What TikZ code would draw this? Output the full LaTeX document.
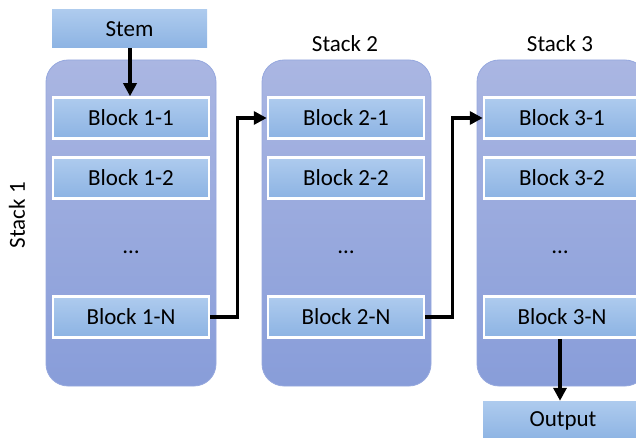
\documentclass[tikz,border=0pt]{standalone}
\usepackage{fontspec}
\setmainfont{Carlito}
\usetikzlibrary{arrows.meta}
\definecolor{blktop}{RGB}{174,203,238}
\definecolor{blkbot}{RGB}{140,179,227}
\definecolor{stktop}{RGB}{170,182,226}
\definecolor{stkbot}{RGB}{136,157,217}
\definecolor{stkline}{RGB}{150,168,222}
\tikzset{
  stackbox/.style={draw=stkline, line width=0.8pt, rounded corners=22pt, top color=stktop, bottom color=stkbot},
  blockbox/.style={draw=white, line width=2.5pt, top color=blktop, bottom color=blkbot,
    minimum width=156pt, minimum height=41pt, inner sep=0pt, font=\fontsize{23}{27}\selectfont},
  plainbox/.style={top color=blktop, bottom color=blkbot, inner sep=0pt, font=\fontsize{23}{27}\selectfont},
  lbl/.style={font=\fontsize{23}{27}\selectfont, inner sep=0pt},
  conn/.style={line width=3.5pt, -{Triangle[length=13pt,width=13pt]}},
}
\begin{document}
\begin{tikzpicture}[x=1pt,y=-1pt]
\useasboundingbox (0,0) rectangle (636,438);
\clip (0,0) rectangle (636,438);
% stacks
\path[stackbox] (46,60) rectangle (216,386);
\path[stackbox] (262,60) rectangle (431,386);
\path[stackbox] (477,60) rectangle (647,386);
% stem and output
\node[plainbox, minimum width=155pt, minimum height=38pt] (stem) at (129.5,29) {Stem};
\node[plainbox, minimum width=160pt, minimum height=40pt] (out) at (563,421) {Output};
% blocks
\node[blockbox] (b11) at (131,118) {Block 1-1};
\node[blockbox] (b12) at (131,178) {Block 1-2};
\node[lbl] (d1) at (131,252) {…};
\node[blockbox] (b1n) at (131,317) {Block 1-N};
\node[blockbox] (b21) at (346,118) {Block 2-1};
\node[blockbox] (b22) at (346,178) {Block 2-2};
\node[lbl] (d2) at (346,252) {…};
\node[blockbox] (b2n) at (346,317) {Block 2-N};
\node[blockbox] (b31) at (562,118) {Block 3-1};
\node[blockbox] (b32) at (562,178) {Block 3-2};
\node[lbl] (d3) at (560,252) {…};
\node[blockbox] (b3n) at (562,317) {Block 3-N};
% labels
\node[lbl, rotate=90] (s1) at (17,215) {Stack 1};
\node[lbl] (s2) at (345,44) {Stack 2};
\node[lbl] (s3) at (560,44) {Stack 3};
% connectors
\draw[conn] (stem.south -| 130,0) -- (b11.north -| 130,0);
\draw[conn] (b1n.east) -- ++(27,0) |- (b21.west);
\draw[conn] (b2n.east) -- ++(27,0) |- (b31.west);
\draw[conn] (b3n.south -| 560,0) -- (out.north -| 560,0);
\end{tikzpicture}
\end{document}
